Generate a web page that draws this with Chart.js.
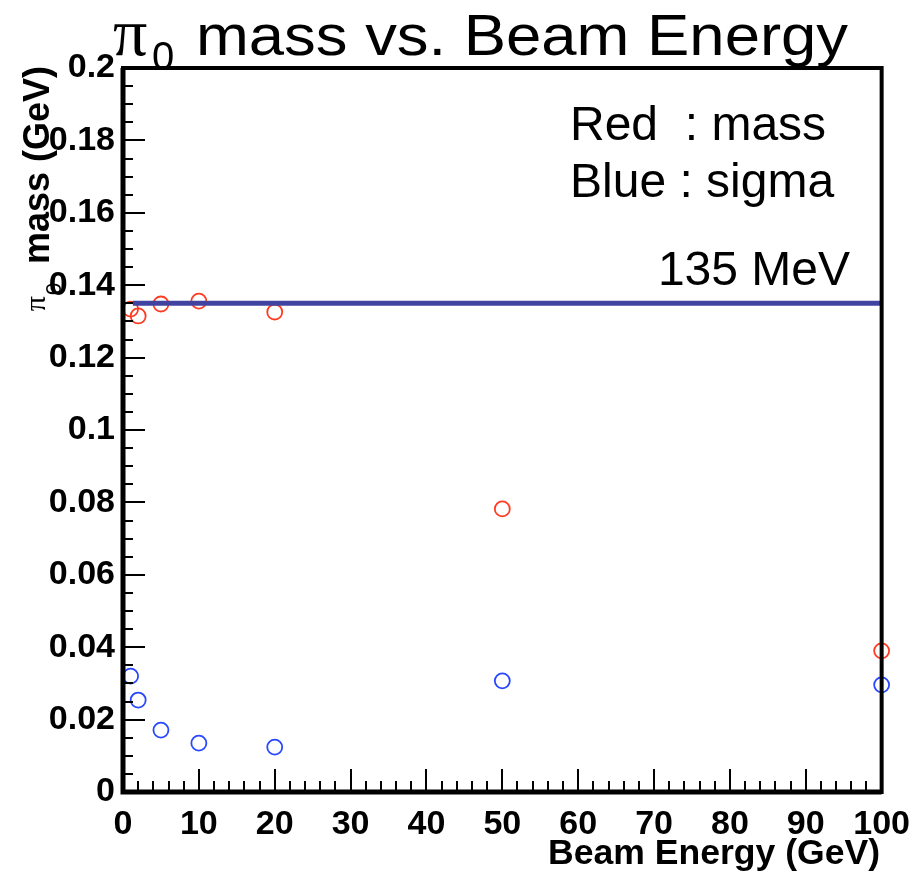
<!DOCTYPE html>
<html>
<head>
<meta charset="utf-8">
<script src="https://cdn.jsdelivr.net/npm/chart.js@4"></script>
<style>
  html, body { margin: 0; padding: 0; background: #fff; }
  #wrap { width: 922px; height: 871px; }
</style>
</head>
<body>
<div id="wrap"><canvas id="chart" width="922" height="871"></canvas></div>
<script>
// beam energies (GeV)
const energies = [1, 2, 5, 10, 20, 50, 100];
// red: fitted pi0 mass (GeV)
const massValues = [0.1334, 0.1315, 0.1348, 0.1356, 0.1326, 0.0782, 0.039];
// blue: fitted sigma (GeV)
const sigmaValues = [0.032, 0.0254, 0.0171, 0.0135, 0.0124, 0.0307, 0.0296];
// reference line at 135 MeV
const refLineX = [1.3, 100];
const refLineY = [0.135, 0.135];

const SANS = '"Liberation Sans", Arial, Helvetica, sans-serif';
const SERIF = '"Liberation Serif", "Times New Roman", serif';

const toPoints = (xs, ys) => xs.map((x, i) => ({ x: x, y: ys[i] }));

// frame, inside tick marks and the text around the plot
const decorations = {
  id: 'decorations',
  afterDraw(chart) {
    const ctx = chart.ctx;
    const area = chart.chartArea;
    const xs = chart.scales.x;
    const ys = chart.scales.y;
    ctx.save();

    // tick marks pointing inwards
    ctx.strokeStyle = '#000';
    ctx.lineWidth = 2;
    ctx.beginPath();
    for (let v = 0; v <= 100; v += 2) {
      const px = Math.round(xs.getPixelForValue(v));
      const len = v % 10 === 0 ? 23 : 11;
      ctx.moveTo(px, area.bottom);
      ctx.lineTo(px, area.bottom - len);
    }
    for (let i = 0; i <= 40; i++) {
      const py = Math.round(ys.getPixelForValue(i * 0.005));
      const len = i % 4 === 0 ? 22 : 10;
      ctx.moveTo(area.left, py);
      ctx.lineTo(area.left + len, py);
    }
    ctx.stroke();

    // frame
    ctx.lineWidth = 4;
    ctx.strokeRect(area.left, area.top, area.right - area.left, area.bottom - area.top);
    ctx.lineWidth = 5;
    ctx.beginPath();
    ctx.moveTo(area.left, area.top);
    ctx.lineTo(area.left, area.bottom);
    ctx.lineTo(area.right, area.bottom);
    ctx.stroke();

    ctx.fillStyle = '#000';
    ctx.textBaseline = 'alphabetic';

    // main title
    ctx.font = '68px ' + SERIF;
    ctx.textAlign = 'left';
    ctx.fillText('\u03c0', 113, 55);
    ctx.font = '40px ' + SANS;
    ctx.fillText('0', 152, 70);
    const title = 'mass vs. Beam Energy';
    ctx.font = '58px ' + SANS;
    const tw = ctx.measureText(title).width;
    ctx.save();
    ctx.translate(196, 55);
    ctx.scale(652 / tw, 1);
    ctx.fillText(title, 0, 0);
    ctx.restore();

    // notes inside the plot
    ctx.font = '48px ' + SANS;
    ctx.fillText('Red  : mass', 570, 140);
    ctx.fillText('Blue : sigma', 570, 197);
    ctx.textAlign = 'right';
    ctx.fillText('135 MeV', 850, 285);

    // x axis title
    ctx.font = 'bold 35px ' + SANS;
    const xt = 'Beam Energy (GeV)';
    const xw = ctx.measureText(xt).width;
    ctx.save();
    ctx.translate(880, 864);
    ctx.scale(332 / xw, 1);
    ctx.fillText(xt, 0, 0);
    ctx.restore();

    // y axis title (rotated)
    ctx.save();
    ctx.translate(49, 66);
    ctx.rotate(-Math.PI / 2);
    ctx.textAlign = 'right';
    ctx.font = 'bold 36px ' + SANS;
    const yt = 'mass (GeV)';
    const yw = ctx.measureText(yt).width;
    ctx.fillText(yt, 0, 0);
    ctx.textAlign = 'left';
    ctx.font = '30px ' + SERIF;
    const piW = ctx.measureText('\u03c0').width;
    const piX = -yw - 18 - piW - 14;
    ctx.fillText('\u03c0', piX, -4);
    ctx.font = '22px ' + SANS;
    ctx.fillText('0', piX + piW + 1, 12);
    ctx.restore();

    ctx.restore();
  }
};

const config = {
  type: 'scatter',
  data: {
    datasets: [
      {
        type: 'line',
        label: '135 MeV',
        data: toPoints(refLineX, refLineY),
        borderColor: '#4044a0',
        borderWidth: 5,
        pointRadius: 0,
        fill: false,
        clip: false
      },
      {
        label: 'mass',
        data: toPoints(energies, massValues),
        borderColor: '#ff3b22',
        backgroundColor: 'rgba(0,0,0,0)',
        borderWidth: 1.8,
        pointRadius: 7.5,
        clip: false
      },
      {
        label: 'sigma',
        data: toPoints(energies, sigmaValues),
        borderColor: '#2848ff',
        backgroundColor: 'rgba(0,0,0,0)',
        borderWidth: 1.8,
        pointRadius: 7.5,
        clip: false
      }
    ]
  },
  options: {
    responsive: false,
    animation: false,
    events: [],
    layout: { padding: { top: 68, right: 39, left: 0, bottom: 0 } },
    plugins: {
      legend: { display: false },
      title: { display: false },
      tooltip: { enabled: false }
    },
    scales: {
      x: {
        type: 'linear',
        min: 0,
        max: 100,
        grid: { display: false, drawTicks: false },
        border: { display: false },
        ticks: {
          stepSize: 10,
          padding: 12,
          color: '#000',
          font: { family: SANS, size: 34, weight: 'bold' },
          maxRotation: 0
        },
        afterFit(scale) { scale.height = 79; }
      },
      y: {
        type: 'linear',
        min: 0,
        max: 0.2,
        grid: { display: false, drawTicks: false },
        border: { display: false },
        ticks: {
          stepSize: 0.02,
          padding: 8,
          color: '#000',
          font: { family: SANS, size: 34, weight: 'bold' },
          callback: v => String(parseFloat(v.toFixed(3)))
        },
        afterFit(scale) { scale.width = 123; }
      }
    }
  },
  plugins: [decorations]
};

window.addEventListener('load', () => {
  new Chart(document.getElementById('chart').getContext('2d'), config);
});
</script>
</body>
</html>
